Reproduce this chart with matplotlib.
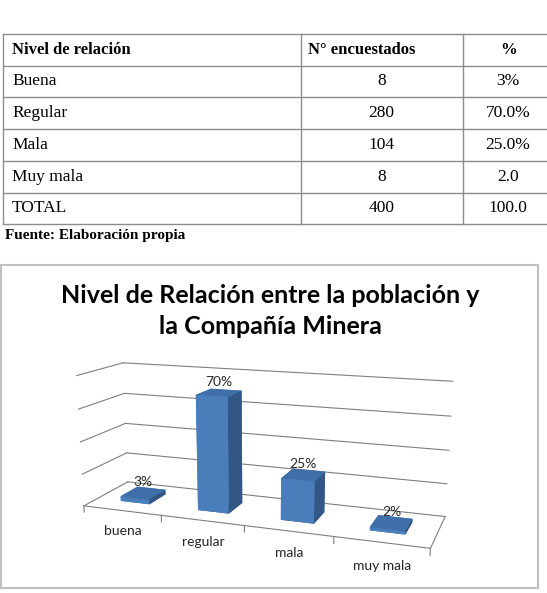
import matplotlib
matplotlib.use('Agg')
import matplotlib.pyplot as plt
from matplotlib.lines import Line2D
from matplotlib.patches import Rectangle

# table data
header = ['Nivel de relación', 'N° encuestados', '%']
niveles = ['Buena', 'Regular', 'Mala', 'Muy mala', 'TOTAL']
encuestados = ['8', '280', '104', '8', '400']
porcentajes = ['3%', '70.0%', '25.0%', '2.0', '100.0']

# chart data
categorias = ['buena', 'regular', 'mala', 'muy mala']
valores = [3, 70, 25, 2]
etiquetas = ['3%', '70%', '25%', '2%']
titulo = 'Nivel de Relación entre la población y\nla Compañía Minera'

W, H = 547, 593


def fx(px):
    return px / W


def fy(py):
    return 1 - py / H


fig = plt.figure(figsize=(W / 100, H / 100), dpi=100)

# --- table ---
row_y = [34, 65.5, 97, 129, 161, 193, 224]
col_x = [2.5, 300.7, 462.7, 546]
gray = '#8c8c8c'
for y in row_y:
    fig.add_artist(Line2D([fx(col_x[0]), fx(col_x[-1])], [fy(y), fy(y)],
                          color=gray, lw=1.0))
for x in col_x[:-1]:
    fig.add_artist(Line2D([fx(x), fx(x)], [fy(row_y[0]), fy(row_y[-1])],
                          color=gray, lw=1.0))

serif = 'Liberation Serif'
fs = 12.5
rc = [(row_y[i] + row_y[i + 1]) / 2 for i in range(len(row_y) - 1)]
fig.text(fx(12), fy(rc[0]), header[0], ha='left', va='center',
         family=serif, weight='bold', fontsize=12)
fig.text(fx(308), fy(rc[0]), header[1], ha='left', va='center',
         family=serif, weight='bold', fontsize=12)
fig.text(fx(509), fy(rc[0]), header[2], ha='center', va='center',
         family=serif, weight='bold', fontsize=12)
for i in range(len(niveles)):
    y = fy(rc[i + 1])
    fig.text(fx(12), y, niveles[i], ha='left', va='center', family=serif, fontsize=fs)
    fig.text(fx(381.5), y, encuestados[i], ha='center', va='center', family=serif, fontsize=fs)
    fig.text(fx(508), y, porcentajes[i], ha='center', va='center', family=serif, fontsize=fs)
fig.text(fx(5), fy(236), 'Fuente: Elaboración propia', ha='left', va='center',
         family=serif, weight='bold', fontsize=11)

# --- chart frame and title ---
fig.add_artist(Rectangle((fx(1), fy(588)), fx(537), (588 - 265) / H,
                         transform=fig.transFigure, fill=False,
                         edgecolor='#c0c0c0', lw=1.5))
fig.text(fx(270), fy(311), titulo, ha='center', va='center', family='Lato',
         weight='bold', fontsize=18, linespacing=1.45)

# --- 3D bars ---
side_px = 440
cx, cy = 255, 452
ax = fig.add_axes([fx(cx - side_px / 2), fy(cy + side_px / 2), fx(side_px), side_px / H],
                  projection='3d')
ax.set_proj_type('persp', focal_length=0.35)
ax.view_init(elev=14, azim=-70)
ax.set_box_aspect((382, 100, 146), zoom=0.87)
ax.set_xlim(0, 4)
ax.set_ylim(0, 1)
ax.set_zlim(0, 80)
ax.set_axis_off()
ax.patch.set_alpha(0)

grid_c = '#7f7f7f'
for z in [0, 20, 40, 60, 80]:
    ax.plot([0, 4], [1, 1], [z, z], color=grid_c, lw=0.8)
    ax.plot([0, 0], [0, 1], [z, z], color=grid_c, lw=0.8)
ax.plot([0, 4], [0, 0], [0, 0], color=grid_c, lw=0.8)
ax.plot([4, 4], [0, 1], [0, 0], color=grid_c, lw=0.8)
for i in range(len(categorias) + 1):
    ax.plot([i, i], [0, 0], [0, -4], color=grid_c, lw=0.8)

w, d = 0.38, 0.4
front, top, side = '#4a7ebb', '#3f6ea8', '#325785'
face_colors = []
for v in valores:
    face_colors += [side, top, front, front, front, side]
xs = [i + 0.5 - w / 2 for i in range(len(valores))]
ax.bar3d(xs, [0.3] * len(valores), [0] * len(valores), w, d, valores,
         color=face_colors, shade=False, edgecolor='none')

for i, v in enumerate(valores):
    ax.text(i + 0.5, 0.5, v + 3, etiquetas[i], ha='center', va='bottom',
            family='Lato', fontsize=10, color='#262626')
    ax.text(i + 0.53, -0.05, -12, categorias[i], ha='center', va='center',
            family='Lato', fontsize=10, color='#262626')

fig.savefig('out.png', dpi=100)
